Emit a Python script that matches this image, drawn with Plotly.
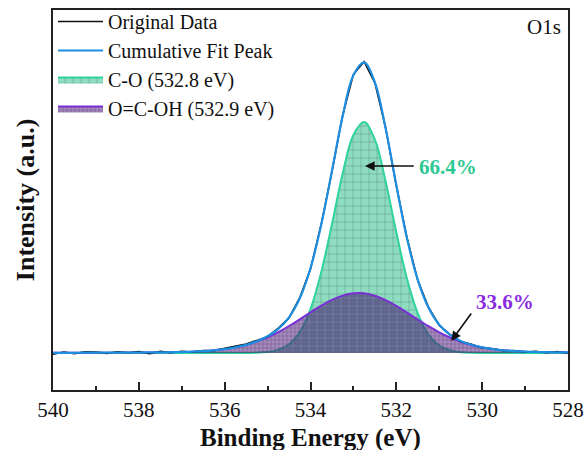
import plotly.graph_objects as go

# Binding energy grid (eV)
energy = [540.0, 539.75, 539.5, 539.25, 539.0, 538.75, 538.5, 538.25, 538.0, 537.75,
          537.5, 537.25, 537.0, 536.75, 536.5, 536.25, 536.0, 535.75, 535.5, 535.25,
          535.0, 534.75, 534.5, 534.25, 534.0, 533.75, 533.5, 533.25, 533.0, 532.75,
          532.5, 532.25, 532.0, 531.75, 531.5, 531.25, 531.0, 530.75, 530.5, 530.25,
          530.0, 529.75, 529.5, 529.25, 529.0, 528.75, 528.5, 528.25, 528.0]

original_data = [-1.2, 1.0, -0.6, 1.3, 0.9, -0.4, 1.2, 0.3, 1.4, -0.7,
                 1.6, 0.2, 1.8, 0.9, 2.4, 2.3, 4.6, 6.8, 8.9, 12.6,
                 16.3, 24.8, 35.1, 55.3, 84.1, 128.9, 181.4, 237.8, 278.6, 291.4,
                 270.1, 225.3, 167.2, 114.9, 72.6, 45.8, 27.6, 18.7, 11.6, 8.7,
                 5.1, 4.3, 2.2, 2.5, 0.8, 1.7, 0.2, 1.5, -0.3]

cumulative_fit = [0.2, 0.2, 0.2, 0.3, 0.3, 0.3, 0.4, 0.4, 0.5, 0.6,
                  0.7, 0.8, 1.0, 1.3, 1.9, 2.7, 3.9, 5.7, 8.1, 11.8,
                  16.7, 24.1, 35.7, 54.7, 84.8, 128.2, 182.1, 236.9, 277.7, 290.6,
                  270.6, 224.7, 167.8, 114.4, 73.1, 45.2, 28.2, 18.2, 12.1, 8.2,
                  5.6, 3.9, 2.7, 1.9, 1.3, 1.0, 0.8, 0.7, 0.6]

peak_c_o = [0, 0, 0, 0, 0, 0, 0, 0, 0, 0,
            0, 0, 0, 0, 0, 0, 0, 0, 0, 0.3,
            1.0, 3.2, 8.7, 21.0, 44.1, 80.8, 128.9, 179.5, 218.0, 230.9,
            213.3, 171.8, 120.7, 74.0, 39.6, 18.4, 7.5, 2.7, 0.8, 0.2,
            0, 0, 0, 0, 0, 0, 0, 0, 0]

peak_ocoh = [0.2, 0.2, 0.2, 0.3, 0.3, 0.3, 0.4, 0.4, 0.5, 0.6,
             0.7, 0.8, 1.0, 1.3, 1.9, 2.7, 3.9, 5.7, 8.1, 11.5,
             15.7, 20.9, 27.0, 33.7, 40.7, 47.4, 53.2, 57.4, 59.7, 59.7,
             57.3, 52.9, 47.1, 40.4, 33.5, 26.8, 20.7, 15.5, 11.3, 8.0,
             5.6, 3.9, 2.7, 1.9, 1.3, 1.0, 0.8, 0.7, 0.6]

x_ticks = [540, 538, 536, 534, 532, 530, 528]
names = ["Original Data", "Cumulative Fit Peak", "C-O (532.8 eV)", "O=C-OH (532.9 eV)"]
pct_labels = ["66.4%", "33.6%"]

FONT = "Liberation Serif, Times New Roman, serif"

fig = go.Figure()

fig.add_trace(go.Scatter(
    x=energy, y=peak_c_o, name=names[2], mode="lines", line_shape="spline",
    line=dict(color="#2fd39b", width=2), fill="tozeroy",
    fillcolor="rgba(50,190,140,0.55)",
    fillpattern=dict(shape="+", size=8, solidity=0.12,
                     bgcolor="rgba(50,190,140,0.55)", fgcolor="rgb(50,100,90)",
                     fgopacity=0.6),
    legendrank=3))

fig.add_trace(go.Scatter(
    x=energy, y=peak_ocoh, name=names[3], mode="lines", line_shape="spline",
    line=dict(color="#7a2fd6", width=2), fill="tozeroy",
    fillcolor="rgba(70,15,120,0.55)",
    fillpattern=dict(shape="+", size=4, solidity=0.25,
                     bgcolor="rgba(80,20,130,0.5)", fgcolor="rgb(40,25,60)",
                     fgopacity=0.45),
    legendrank=4))

fig.add_trace(go.Scatter(
    x=energy, y=original_data, name=names[0], mode="lines",
    line=dict(color="#111111", width=1.6), legendrank=1))

fig.add_trace(go.Scatter(
    x=energy, y=cumulative_fit, name=names[1], mode="lines", line_shape="spline",
    line=dict(color="#1e8ee0", width=2.2), legendrank=2))

# arrows
fig.add_annotation(x=532.73, y=187, ax=531.56, ay=187, axref="x", ayref="y",
                   xref="x", yref="y", text="", showarrow=True,
                   arrowhead=2, arrowsize=1.2, arrowwidth=1.6, arrowcolor="#111111")
fig.add_annotation(x=530.72, y=12, ax=530.23, ay=41, axref="x", ayref="y",
                   xref="x", yref="y", text="", showarrow=True,
                   arrowhead=2, arrowsize=1.2, arrowwidth=1.6, arrowcolor="#111111")
fig.add_annotation(x=530.79, y=186, xref="x", yref="y", text="<b>%s</b>" % pct_labels[0],
                   showarrow=False, font=dict(family=FONT, size=21, color="#2cc994"))
fig.add_annotation(x=529.46, y=51, xref="x", yref="y", text="<b>%s</b>" % pct_labels[1],
                   showarrow=False, font=dict(family=FONT, size=21, color="#8a2be2"))

# O1s label
fig.add_annotation(x=0.99, y=0.955, xref="paper", yref="paper", text="O1s",
                   xanchor="right", yanchor="middle", showarrow=False,
                   font=dict(family=FONT, size=21, color="#111111"))

# axis titles
fig.add_annotation(x=0.5, y=-0.127, xref="paper", yref="paper",
                   text="<b>Binding Energy (eV)</b>", showarrow=False,
                   xanchor="center", yanchor="middle",
                   font=dict(family=FONT, size=25, color="#111111"))
fig.add_annotation(x=-0.054, y=0.5, xref="paper", yref="paper",
                   text="<b>Intensity (a.u.)</b>", showarrow=False, textangle=-90,
                   xanchor="center", yanchor="middle",
                   font=dict(family=FONT, size=26, color="#111111"))

fig.update_layout(
    width=586, height=450,
    margin=dict(l=53, r=18, t=10, b=60, autoexpand=False),
    paper_bgcolor="white", plot_bgcolor="white",
    font=dict(family=FONT, color="#111111"),
    showlegend=True,
    legend=dict(x=0.0, y=1.021, xanchor="left", yanchor="top",
                bgcolor="rgba(0,0,0,0)", borderwidth=0,
                font=dict(family=FONT, size=20, color="#111111"),
                itemwidth=45, tracegroupgap=0, traceorder="normal"),
)

fig.update_xaxes(
    range=[540, 528], tickvals=x_ticks, ticktext=[str(v) for v in x_ticks],
    ticks="inside", ticklen=8, tickwidth=1.5, tickcolor="#222222",
    minor=dict(dtick=1, ticks="inside", ticklen=4, tickwidth=1.5, tickcolor="#222222",
               showgrid=False),
    showline=True, linecolor="#222222", linewidth=1.5, mirror=True,
    showgrid=False, zeroline=False, ticklabelstandoff=0,
    tickfont=dict(family=FONT, size=21, color="#111111"))

fig.update_yaxes(
    range=[-37, 343], showticklabels=False, ticks="",
    showline=True, linecolor="#222222", linewidth=1.5, mirror=True,
    showgrid=False, zeroline=False)

fig.write_html("out.html")
